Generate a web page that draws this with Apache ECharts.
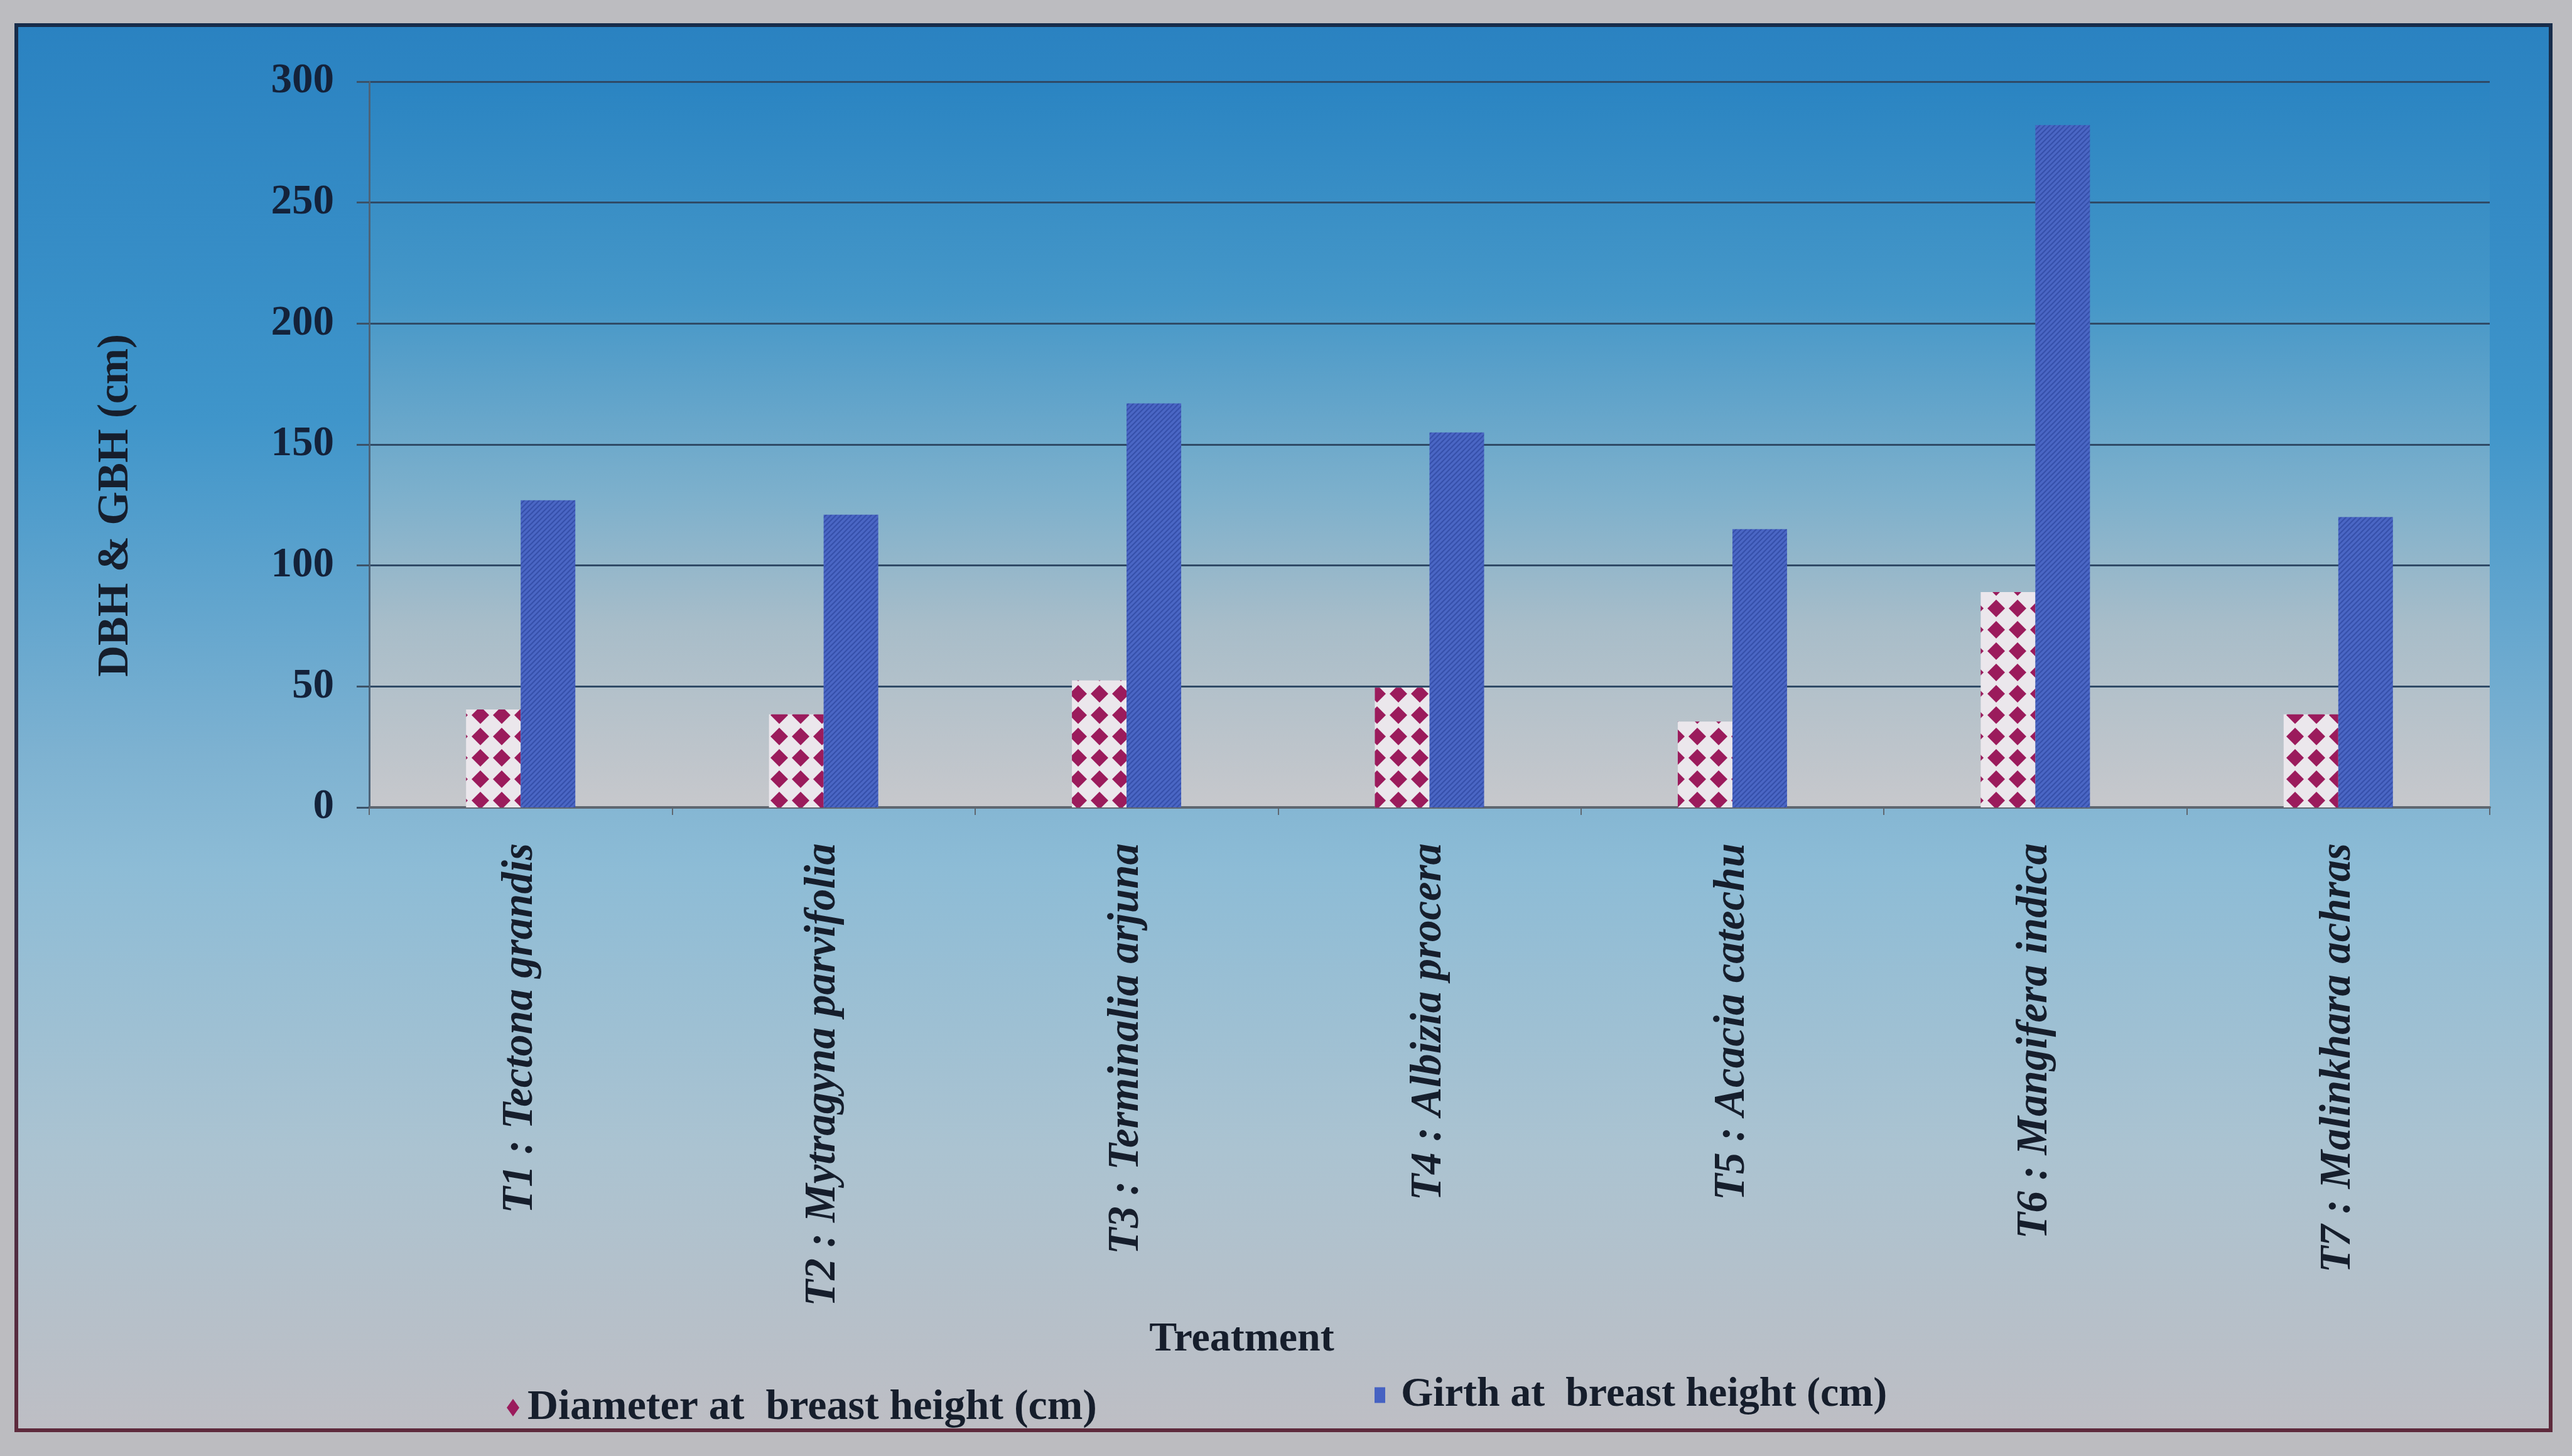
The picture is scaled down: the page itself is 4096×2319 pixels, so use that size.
<!DOCTYPE html>
<html>
<head>
<meta charset="utf-8">
<script src="https://cdn.jsdelivr.net/npm/echarts@6/dist/echarts.min.js"></script>
<style>
  html, body { margin: 0; padding: 0; background: #bcbcc0; }
  #chart { width: 4096px; height: 2319px; }
</style>
</head>
<body>
<div id="chart"></div>
<script>
// ---- data ----
const categories = [
  'T1 : Tectona grandis',
  'T2 : Mytragyna parvifolia',
  'T3 : Terminalia arjuna',
  'T4 : Albizia procera',
  'T5 : Acacia catechu',
  'T6 : Mangifera indica',
  'T7 : Malinkhara achras'
];
const seriesNames = ['Diameter at  breast height (cm)', 'Girth at  breast height (cm)'];
const dbhValues = [40.5, 38.5, 52.5, 49.5, 35.5, 89, 38.5];
const gbhValues = [127, 121, 167, 155, 115, 282, 120];
const yMin = 0, yMax = 300, yStep = 50;

// ---- fill patterns ----
function diamondPattern() {
  const s = 34;
  const c = document.createElement('canvas');
  c.width = s; c.height = s;
  const g = c.getContext('2d');
  g.fillStyle = '#ebe7ec';
  g.fillRect(0, 0, s, s);
  g.fillStyle = '#9b1b5c';
  g.beginPath();
  g.moveTo(s / 2, 3); g.lineTo(s - 3, s / 2); g.lineTo(s / 2, s - 3); g.lineTo(3, s / 2);
  g.closePath(); g.fill();
  return c;
}
function hatchPattern() {
  const s = 8;
  const c = document.createElement('canvas');
  c.width = s; c.height = s;
  const g = c.getContext('2d');
  g.fillStyle = '#4a66c4';
  g.fillRect(0, 0, s, s);
  g.strokeStyle = '#3650aa';
  g.lineWidth = 2;
  g.beginPath();
  g.moveTo(0, s); g.lineTo(s, 0);
  g.moveTo(-s / 2, s / 2); g.lineTo(s / 2, -s / 2);
  g.moveTo(s / 2, s * 1.5); g.lineTo(s * 1.5, s / 2);
  g.stroke();
  return c;
}

const serif = "'Liberation Serif', 'Times New Roman', serif";
const textDark = '#161e2c';

const chart = echarts.init(document.getElementById('chart'), null, { renderer: 'canvas' });

const gridLeft = 588, gridRight = 131, gridTop = 130, gridBottomY = 1286;

chart.setOption({
  backgroundColor: '#bcbcc0',
  animation: false,
  graphic: [
    {
      type: 'rect', z: -10, silent: true,
      shape: { x: 26, y: 40, width: 4036, height: 2238 },
      style: {
        fill: {
          type: 'linear', x: 0, y: 0, x2: 0, y2: 1,
          colorStops: [
            { offset: 0, color: '#2a82c1' },
            { offset: 0.28, color: '#3f95ca' },
            { offset: 0.52, color: '#7eb2d1' },
            { offset: 0.6, color: '#8dbcd6' },
            { offset: 0.8, color: '#abc3d1' },
            { offset: 1, color: '#bebec4' }
          ]
        },
        stroke: {
          type: 'linear', x: 0, y: 0, x2: 0, y2: 1,
          colorStops: [
            { offset: 0, color: '#172c4a' },
            { offset: 0.5, color: '#2a3550' },
            { offset: 1, color: '#5e2a3c' }
          ]
        },
        lineWidth: 6
      }
    }
  ],
  grid: {
    left: gridLeft, right: gridRight, top: gridTop, height: gridBottomY - gridTop,
    show: true, borderWidth: 0,
    backgroundColor: {
      type: 'linear', x: 0, y: 0, x2: 0, y2: 1,
      colorStops: [
        { offset: 0, color: '#2a84c2' },
        { offset: 0.3, color: '#4597c8' },
        { offset: 0.57, color: '#7db0cc' },
        { offset: 0.75, color: '#a8bdc9' },
        { offset: 1, color: '#c7c8cc' }
      ]
    }
  },
  legend: [
    {
      left: 802, top: 2203,
      data: [{ name: seriesNames[0], icon: 'diamond', itemStyle: { color: '#9b1b5c' } }],
      itemWidth: 20, itemHeight: 28,
      textStyle: { fontFamily: serif, fontWeight: 'bold', fontSize: 68, color: textDark, padding: [0, 0, 0, 8] }
    },
    {
      left: 2184, top: 2184,
      data: [{ name: seriesNames[1], icon: 'rect', itemStyle: { color: '#4662c2' } }],
      itemWidth: 17, itemHeight: 25,
      textStyle: { fontFamily: serif, fontWeight: 'bold', fontSize: 66, color: textDark, padding: [0, 0, 0, 20] }
    }
  ],
  xAxis: {
    type: 'category',
    data: categories,
    name: 'Treatment',
    nameLocation: 'middle',
    nameGap: 815,
    nameTextStyle: { fontFamily: serif, fontWeight: 'bold', fontSize: 66, color: textDark, padding: [0, 598, 0, 0] },
    axisLine: { show: true, lineStyle: { color: '#5f6770', width: 4 } },
    axisTick: { show: true, inside: false, length: 12, lineStyle: { color: '#5f6770', width: 2 } },
    axisLabel: {
      interval: 0, rotate: 90, margin: 57,
      fontFamily: serif, fontWeight: 'bold', fontStyle: 'italic', fontSize: 69, color: textDark
    },
    splitLine: { show: false }
  },
  yAxis: {
    type: 'value',
    min: yMin, max: yMax, interval: yStep,
    name: 'DBH & GBH (cm)',
    nameLocation: 'middle',
    nameGap: 368,
    nameTextStyle: { fontFamily: serif, fontWeight: 'bold', fontSize: 69, color: textDark, padding: [0, 194, 0, 0] },
    axisLine: { show: true, lineStyle: { color: '#4d6378', width: 3 } },
    axisTick: { show: true, inside: false, length: 20, lineStyle: { color: '#3b5268', width: 3 } },
    axisLabel: { margin: 56, fontFamily: serif, fontWeight: 'bold', fontSize: 67, color: '#14223a' },
    splitLine: { show: true, lineStyle: { color: '#2f4a66', width: 3 } }
  },
  series: [
    {
      name: seriesNames[0], type: 'bar', data: dbhValues,
      barWidth: 87, barGap: '0%',
      itemStyle: { color: { image: diamondPattern(), repeat: 'repeat' } }
    },
    {
      name: seriesNames[1], type: 'bar', data: gbhValues,
      barWidth: 87, barGap: '0%',
      itemStyle: { color: { image: hatchPattern(), repeat: 'repeat' } }
    }
  ]
});
</script>
</body>
</html>
